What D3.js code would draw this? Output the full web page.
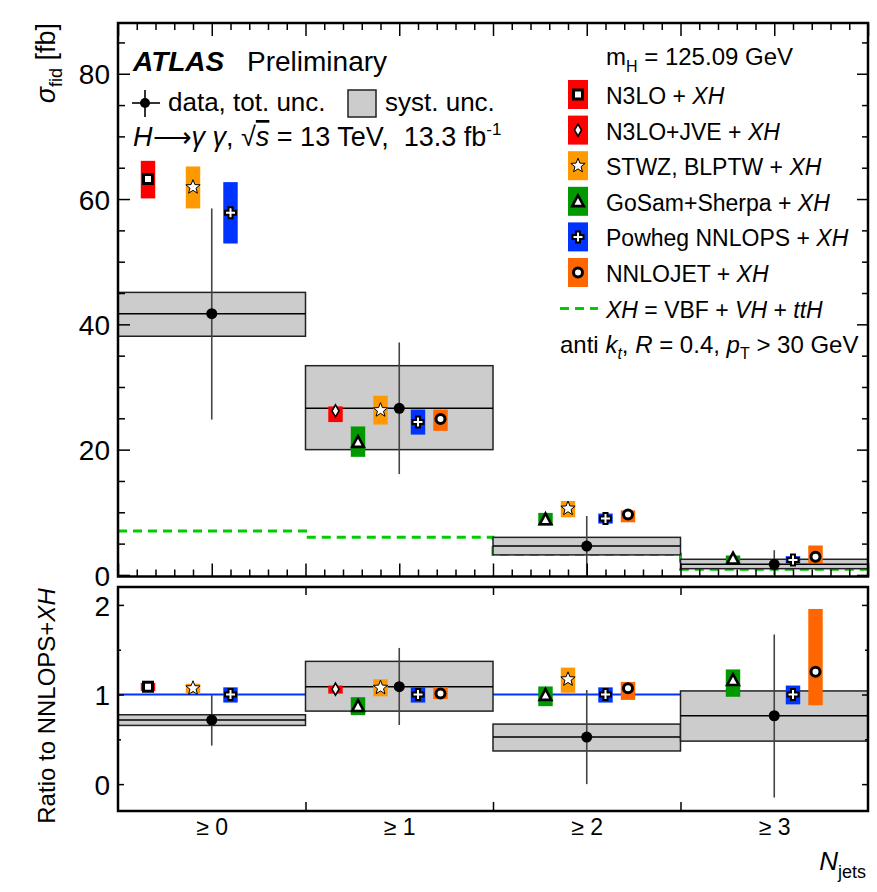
<!DOCTYPE html>
<html>
<head>
<meta charset="utf-8">
<script src="https://cdn.jsdelivr.net/npm/d3@7"></script>
<style>
  body { margin: 0; background: #fff; }
  text { font-family: "Liberation Sans", Arial, Helvetica, sans-serif; fill: #000; }
</style>
</head>
<body>
<svg id="chart" width="877" height="892"></svg>
<script>
// ---- data ----
var bins = ["≥ 0", "≥ 1", "≥ 2", "≥ 3"];

// measured cross section [fb]
var dataXs = [41.7, 26.6, 4.6, 1.7];
var dataTotLo = [24.8, 16.1, 0.0, 0.0];
var dataTotHi = [58.5, 37.1, 9.4, 3.95];
var dataSysLo = [38.1, 20.0, 3.2, 1.0];
var dataSysHi = [45.1, 33.4, 6.0, 2.5];

// XH = VBF + VH + ttH
var xhXs = [7.0, 6.0, 3.3, 0.9];

// predictions: [central, low, high] per bin, null where absent
var modelNames = ["N3LO", "N3LO+JVE", "STWZ, BLPTW", "GoSam+Sherpa", "Powheg NNLOPS", "NNLOJET"];
var xsN3LO    = [[63.2, 60.1, 66.1], null, null, null];
var xsJVE     = [null, [26.2, 24.4, 26.9], null, null];
var xsSTWZ    = [[61.9, 58.5, 65.2], [26.3, 24.0, 28.6], [10.6, 9.2, 11.8], null];
var xsGoSam   = [null, [21.2, 18.85, 23.7], [8.85, 7.9, 9.9], [2.6, 1.9, 3.1]];
var xsPowheg  = [[57.8, 52.9, 62.7], [24.4, 22.4, 26.4], [9.0, 8.2, 9.8], [2.4, 1.8, 3.0]];
var xsNNLOJET = [null, [24.9, 23.0, 26.4], [9.65, 8.4, 10.3], [2.9, 1.9, 4.7]];

// ratio to NNLOPS+XH
var ratioData = [0.715, 1.087, 0.525, 0.763];
var ratioTotLo = [0.43, 0.66, 0.0, -0.15];
var ratioTotHi = [1.0, 1.52, 1.05, 1.67];
var ratioSysLo = [0.655, 0.815, 0.37, 0.48];
var ratioSysHi = [0.774, 1.37, 0.67, 1.04];
var rN3LO    = [[1.087, 1.04, 1.13], null, null, null];
var rJVE     = [null, [1.06, 1.01, 1.10], null, null];
var rSTWZ    = [[1.07, 1.01, 1.12], [1.076, 0.98, 1.17], [1.17, 1.02, 1.30], null];
var rGoSam   = [null, [0.87, 0.77, 0.97], [0.994, 0.87, 1.09], [1.16, 0.975, 1.28]];
var rPowheg  = [[1.0, 0.91, 1.08], [1.0, 0.91, 1.08], [1.0, 0.91, 1.08], [1.0, 0.89, 1.10]];
var rNNLOJET = [null, [1.01, 0.95, 1.08], [1.07, 0.94, 1.14], [1.255, 0.88, 1.955]];

var yTicksTop = [0, 20, 40, 60, 80];
var yTicksBottom = [0, 1, 2];

// ---- styles ----
var modelStyle = [
  { color: '#ff0000', shape: 'square',   off: 0.16 },
  { color: '#ff0000', shape: 'diamond',  off: 0.16 },
  { color: '#ff9900', shape: 'star',     off: 0.40 },
  { color: '#009900', shape: 'triangle', off: 0.28 },
  { color: '#0033ff', shape: 'cross',    off: 0.60 },
  { color: '#ff6600', shape: 'circle',   off: 0.72 }
];
var xsModels = [xsN3LO, xsJVE, xsSTWZ, xsGoSam, xsPowheg, xsNNLOJET];
var rModels = [rN3LO, rJVE, rSTWZ, rGoSam, rPowheg, rNNLOJET];

var svg = d3.select('#chart');
var L = 118, R = 868;
var topPanel = { t: 23, b: 576.5 };
var botPanel = { t: 587, b: 811 };

var x = d3.scaleLinear().domain([0, 4]).range([L, R]);
var yTop = d3.scaleLinear().domain([-0.25, 88.1]).range([topPanel.b, topPanel.t]);
var yBot = d3.scaleLinear().domain([-0.3, 2.2]).range([botPanel.b, botPanel.t]);
var boxW = 0.077;

function starPath(ro, ri) {
  var p = [];
  for (var i = 0; i < 10; i++) {
    var r = i % 2 ? ri : ro;
    var a = -Math.PI / 2 + i * Math.PI / 5;
    p.push([r * Math.cos(a), r * Math.sin(a)]);
  }
  return 'M' + p.map(d => d[0].toFixed(2) + ',' + d[1].toFixed(2)).join('L') + 'Z';
}

// draw an open marker at (cx, cy)
function drawMarker(g, shape, cx, cy) {
  var m = g.append('g').attr('transform', 'translate(' + cx + ',' + cy + ')');
  if (shape === 'square') {
    m.append('rect').attr('x', -4.5).attr('y', -4.5).attr('width', 9).attr('height', 9)
      .attr('fill', '#fff').attr('stroke', '#000').attr('stroke-width', 3);
  } else if (shape === 'diamond') {
    m.append('path').attr('d', 'M0,-6L3.5,0L0,6L-3.5,0Z')
      .attr('fill', '#fff').attr('stroke', '#000').attr('stroke-width', 1.6);
  } else if (shape === 'star') {
    m.append('path').attr('d', starPath(7.5, 3.2))
      .attr('fill', '#fff').attr('stroke', '#000').attr('stroke-width', 1);
  } else if (shape === 'triangle') {
    m.append('path').attr('d', 'M0,-6L5.8,4.8L-5.8,4.8Z')
      .attr('fill', '#fff').attr('stroke', '#000').attr('stroke-width', 2.6).attr('stroke-linejoin', 'miter');
  } else if (shape === 'cross') {
    m.append('path').attr('d', 'M-2,-5.5H2V-2H5.5V2H2V5.5H-2V2H-5.5V-2H-2Z')
      .attr('fill', '#fff').attr('stroke', '#000').attr('stroke-width', 2);
  } else if (shape === 'circle') {
    m.append('circle').attr('r', 4.5)
      .attr('fill', '#fff').attr('stroke', '#000').attr('stroke-width', 3);
  }
}

function drawPanel(g, y, sysLo, sysHi, cen, totLo, totHi, models, refLine, xh) {
  if (refLine) {
    g.append('line')
      .attr('x1', x(0)).attr('x2', x(4))
      .attr('y1', y(1)).attr('y2', y(1))
      .attr('stroke', '#0033ff').attr('stroke-width', 2);
  }
  if (xh) {
    var pts = xh.map((v, i) => [i, v]).concat([[4, xh[xh.length - 1]]]);
    g.append('path')
      .attr('d', d3.line().x(d => x(d[0])).y(d => y(d[1])).curve(d3.curveStepAfter)(pts))
      .attr('fill', 'none').attr('stroke', '#00cc00').attr('stroke-width', 3)
      .attr('stroke-dasharray', '9,6');
  }
  // systematic boxes
  bins.forEach((b, i) => {
    g.append('rect')
      .attr('x', x(i)).attr('width', x(i + 1) - x(i))
      .attr('y', y(sysHi[i])).attr('height', y(sysLo[i]) - y(sysHi[i]))
      .attr('fill', '#cccccc').attr('stroke', '#222').attr('stroke-width', 1.5);
    g.append('line')
      .attr('x1', x(i)).attr('x2', x(i + 1))
      .attr('y1', y(cen[i])).attr('y2', y(cen[i]))
      .attr('stroke', '#000').attr('stroke-width', 1.5);
  });
  // prediction boxes
  models.forEach((mv, k) => {
    var st = modelStyle[k];
    mv.forEach((d, i) => {
      if (!d) return;
      var cx = i + st.off;
      g.append('rect')
        .attr('x', x(cx - boxW / 2)).attr('width', x(boxW) - x(0))
        .attr('y', y(d[2])).attr('height', y(d[1]) - y(d[2]))
        .attr('fill', st.color);
    });
  });
  // data error bars
  bins.forEach((b, i) => {
    g.append('line')
      .attr('x1', x(i + 0.5)).attr('x2', x(i + 0.5))
      .attr('y1', y(totHi[i])).attr('y2', y(totLo[i]))
      .attr('stroke', '#444').attr('stroke-width', 1.6);
  });
  // prediction markers
  models.forEach((mv, k) => {
    var st = modelStyle[k];
    mv.forEach((d, i) => {
      if (!d) return;
      drawMarker(g, st.shape, x(i + st.off), y(d[0]));
    });
  });
  bins.forEach((b, i) => {
    g.append('circle').attr('cx', x(i + 0.5)).attr('cy', y(cen[i])).attr('r', 5.5).attr('fill', '#000');
  });
}

// ---------- upper panel ----------
var gTop = svg.append('g');
drawPanel(gTop, yTop, dataSysLo, dataSysHi, dataXs, dataTotLo, dataTotHi, xsModels, false, xhXs);

// ---------- lower panel ----------
var gBot = svg.append('g');
drawPanel(gBot, yBot, ratioSysLo, ratioSysHi, ratioData, ratioTotLo, ratioTotHi, rModels, true, null);

// ---------- axes ----------
function styleAxis(sel) {
  sel.select('.domain').remove();
  sel.selectAll('line').attr('stroke', '#000').attr('stroke-width', 1.5);
}
var minorX = d3.range(0, 40.5, 1).map(d => d / 10);
function isHalf(v) { return Math.abs(v * 2 - Math.round(v * 2)) < 1e-6; }

// upper x ticks (top and bottom), inward
svg.append('g').attr('transform', 'translate(0,' + topPanel.t + ')')
  .call(d3.axisTop(x).tickValues(minorX).tickSize(-7).tickFormat(''))
  .call(styleAxis)
  .selectAll('.tick line').attr('y2', d => isHalf(d) ? 13 : 7);
svg.append('g').attr('transform', 'translate(0,' + topPanel.b + ')')
  .call(d3.axisBottom(x).tickValues(minorX).tickSize(-7).tickFormat(''))
  .call(styleAxis)
  .selectAll('.tick line').attr('y2', d => isHalf(d) ? -13 : -7);

// upper y ticks
var yMinorTop = d3.range(0, 90, 5);
var ay = svg.append('g').attr('transform', 'translate(' + L + ',0)')
  .call(d3.axisLeft(yTop).tickValues(yMinorTop).tickSize(-7).tickPadding(8)
    .tickFormat(d => yTicksTop.indexOf(d) >= 0 ? d : ''))
  .call(styleAxis);
ay.selectAll('.tick line').attr('x2', d => d % 20 === 0 ? 12 : 7);
ay.selectAll('.tick text').attr('font-size', 28).attr('dy', '0.36em');
svg.append('g').attr('transform', 'translate(' + R + ',0)')
  .call(d3.axisRight(yTop).tickValues(yMinorTop).tickSize(-6).tickFormat(''))
  .call(styleAxis)
  .selectAll('.tick line').attr('x2', d => d % 20 === 0 ? -11 : -6);

// lower x ticks
svg.append('g').attr('transform', 'translate(0,' + botPanel.t + ')')
  .call(d3.axisTop(x).tickValues([1, 2, 3]).tickSize(-8).tickFormat(''))
  .call(styleAxis);
var axb = svg.append('g').attr('transform', 'translate(0,' + botPanel.b + ')')
  .call(d3.axisBottom(x).tickValues([0.5, 1, 1.5, 2, 2.5, 3, 3.5]).tickSize(-9).tickPadding(0)
    .tickFormat(d => d % 1 ? bins[Math.floor(d)] : ''))
  .call(styleAxis);
axb.selectAll('.tick').filter(d => d % 1).select('line').remove();
axb.selectAll('.tick text').attr('font-size', 23).attr('y', 24).attr('dy', 0);

// lower y ticks
var yMinorBot = [0, 0.5, 1, 1.5, 2];
var ayb = svg.append('g').attr('transform', 'translate(' + L + ',0)')
  .call(d3.axisLeft(yBot).tickValues(yMinorBot).tickSize(-5).tickPadding(8)
    .tickFormat(d => yTicksBottom.indexOf(d) >= 0 ? d : ''))
  .call(styleAxis);
ayb.selectAll('.tick line').attr('x2', d => d % 1 === 0 ? 6 : 3);
ayb.selectAll('.tick text').attr('font-size', 28).attr('dy', '0.36em');
svg.append('g').attr('transform', 'translate(' + R + ',0)')
  .call(d3.axisRight(yBot).tickValues(yMinorBot).tickSize(-5).tickFormat(''))
  .call(styleAxis)
  .selectAll('.tick line').attr('x2', d => d % 1 === 0 ? -6 : -3);

// frames
[topPanel, botPanel].forEach(p => {
  svg.append('rect').attr('x', L).attr('y', p.t).attr('width', R - L).attr('height', p.b - p.t)
    .attr('fill', 'none').attr('stroke', '#000').attr('stroke-width', 2.5);
});

// ---------- axis titles ----------
var t1 = svg.append('text').attr('transform', 'translate(55,23) rotate(-90)')
  .attr('text-anchor', 'end').attr('font-size', 27);
t1.append('tspan').attr('font-style', 'italic').text('σ');
t1.append('tspan').attr('font-size', 18).attr('dy', 7).text('fid');
t1.append('tspan').attr('dy', -7).text(' [fb]');

var t2 = svg.append('text').attr('transform', 'translate(55,706) rotate(-90)')
  .attr('text-anchor', 'middle').attr('font-size', 24);
t2.append('tspan').text('Ratio to NNLOPS+');
t2.append('tspan').attr('font-style', 'italic').text('XH');

var t3 = svg.append('text').attr('x', 866).attr('y', 870).attr('text-anchor', 'end').attr('font-size', 26);
t3.append('tspan').attr('font-style', 'italic').text('N');
t3.append('tspan').attr('font-size', 18).attr('dy', 8).text('jets');

// ---------- top-left legend ----------
svg.append('text').attr('x', 133).attr('y', 71).attr('font-size', 28)
  .attr('font-weight', 'bold').attr('font-style', 'italic').text('ATLAS');
svg.append('text').attr('x', 247).attr('y', 71).attr('font-size', 28).text('Preliminary');

svg.append('line').attr('x1', 132).attr('x2', 160).attr('y1', 103).attr('y2', 103)
  .attr('stroke', '#000').attr('stroke-width', 1.6);
svg.append('line').attr('x1', 145).attr('x2', 145).attr('y1', 90).attr('y2', 117)
  .attr('stroke', '#000').attr('stroke-width', 1.6);
svg.append('circle').attr('cx', 145).attr('cy', 103).attr('r', 5).attr('fill', '#000');
svg.append('text').attr('x', 168).attr('y', 111).attr('font-size', 26).text('data, tot. unc.');
svg.append('rect').attr('x', 348).attr('y', 90).attr('width', 28).attr('height', 27)
  .attr('fill', '#cccccc').attr('stroke', '#222').attr('stroke-width', 1.5);
svg.append('text').attr('x', 385).attr('y', 111).attr('font-size', 26).text('syst. unc.');

var t4 = svg.append('text').attr('x', 133).attr('y', 146).attr('font-size', 27)
  .style('white-space', 'pre');
t4.append('tspan').attr('font-style', 'italic').text('H');
t4.append('tspan').text('⟶');
t4.append('tspan').attr('font-style', 'italic').text('γ γ');
t4.append('tspan').text(', √');
t4.append('tspan').attr('font-style', 'italic').attr('text-decoration', 'overline').text('s');
t4.append('tspan').text(' = 13 TeV,  13.3 fb');
t4.append('tspan').attr('font-size', 17).attr('dy', -11).text('-1');

// ---------- right legend ----------
var lx = 606, ly0 = 104, ldy = 35.6;
var tm = svg.append('text').attr('x', lx).attr('y', 65).attr('font-size', 24);
tm.append('tspan').text('m');
tm.append('tspan').attr('font-size', 16).attr('dy', 7).text('H');
tm.append('tspan').attr('dy', -7).text(' = 125.09 GeV');

modelNames.forEach((name, k) => {
  var st = modelStyle[k];
  var by = ly0 + k * ldy;
  svg.append('rect').attr('x', 568).attr('y', by - 24).attr('width', 20).attr('height', 29)
    .attr('fill', st.color);
  drawMarker(svg, st.shape, 578, by - 9.5);
  var t = svg.append('text').attr('x', lx).attr('y', by).attr('font-size', 23);
  t.append('tspan').text(name + ' + ');
  t.append('tspan').attr('font-style', 'italic').text('XH');
});

var byx = ly0 + 6 * ldy;
svg.append('line').attr('x1', 560).attr('x2', 598).attr('y1', byx - 9).attr('y2', byx - 9)
  .attr('stroke', '#00cc00').attr('stroke-width', 3).attr('stroke-dasharray', '9,6');
var tx = svg.append('text').attr('x', lx).attr('y', byx).attr('font-size', 23);
tx.append('tspan').attr('font-style', 'italic').text('XH');
tx.append('tspan').text(' = VBF + ');
tx.append('tspan').attr('font-style', 'italic').text('VH');
tx.append('tspan').text(' + ');
tx.append('tspan').attr('font-style', 'italic').text('ttH');

var ta = svg.append('text').attr('x', 560).attr('y', ly0 + 7 * ldy).attr('font-size', 24);
ta.append('tspan').text('anti ');
ta.append('tspan').attr('font-style', 'italic').text('k');
ta.append('tspan').attr('font-style', 'italic').attr('font-size', 16).attr('dy', 6).text('t');
ta.append('tspan').attr('dy', -6).text(', ');
ta.append('tspan').attr('font-style', 'italic').text('R');
ta.append('tspan').text(' = 0.4, ');
ta.append('tspan').attr('font-style', 'italic').text('p');
ta.append('tspan').attr('font-size', 16).attr('dy', 6).text('T');
ta.append('tspan').attr('dy', -6).text(' > 30 GeV');
</script>
</body>
</html>
